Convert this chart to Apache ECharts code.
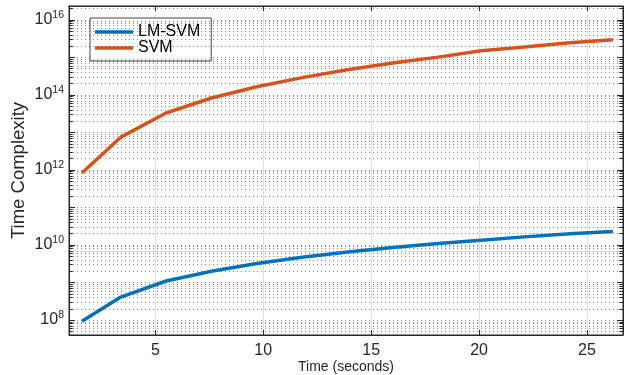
<!DOCTYPE html>
<html>
<head>
<meta charset="utf-8">
<script src="https://cdn.jsdelivr.net/npm/echarts@6/dist/echarts.min.js"></script>
<style>
  html, body { margin: 0; padding: 0; background: #fff; }
  #main { width: 632px; height: 375px; }
</style>
</head>
<body>
<div id="main"></div>
<script>
// values
var timeSec = [1.6, 3.4, 5.5, 7.6, 9.7, 11.8, 13.9, 16.0, 18.1, 20.1, 22.1, 24.2, 26.2];
var lmSvm = [9.3e7, 4.1e8, 1.1e9, 2.0e9, 3.2e9, 4.7e9, 6.5e9, 8.6e9, 1.1e10, 1.35e10, 1.65e10, 2.0e10, 2.3e10];
var svm = [8.3e11, 7.5e12, 3.3e13, 8.3e13, 1.65e14, 2.9e14, 4.7e14, 7.1e14, 1.02e15, 1.5e15, 1.9e15, 2.45e15, 2.95e15];
var seriesNames = ['LM-SVM', 'SVM'];

var xMin = 1, xMax = 26.67;
var yMin = 4e7, yMax = 2.35e16;
var ink = '#262626';
var font = '"Liberation Sans", Arial, sans-serif';

function pairs(xs, ys) {
    return xs.map(function (x, i) { return [x, ys[i]]; });
}

// log minor grid / minor ticks (2..9 x 10^n)
var minorVals = [];
for (var n = 7; n <= 16; n++) {
    for (var k = 2; k <= 9; k++) {
        var v = k * Math.pow(10, n);
        if (v > yMin && v < yMax) minorVals.push(v);
    }
}
var minorGrid = minorVals.map(function (v) { return { yAxis: v }; });
var minorTicks = [];
minorVals.forEach(function (v) {
    minorTicks.push([{ coord: [xMin, v] }, { coord: [xMin + 0.17, v] }]);
    minorTicks.push([{ coord: [xMax - 0.17, v] }, { coord: [xMax, v] }]);
});

function expLabel(v) {
    var e = Math.log10(v);
    var r = Math.round(e);
    if (Math.abs(e - r) > 1e-6 || r % 2 !== 0) return '';
    return '{b|10}{s|' + r + '}';
}

var ec = echarts.init(document.getElementById('main'));
ec.setOption({
    animation: false,
    textStyle: { fontFamily: font },
    grid: {
        left: 69, right: 9, top: 6, bottom: 40,
        outerBoundsMode: 'none', containLabel: false,
        show: true, borderColor: ink, borderWidth: 1
    },
    legend: {
        orient: 'vertical',
        left: 90, top: 18,
        data: seriesNames,
        icon: 'rect',
        backgroundColor: '#fff',
        borderColor: '#444', borderWidth: 1, borderRadius: 0,
        padding: [6, 11, 5, 5],
        itemWidth: 38, itemHeight: 3.5, itemGap: 0,
        textStyle: { fontSize: 16, color: '#000', lineHeight: 15, fontFamily: font }
    },
    xAxis: [{
        type: 'value', min: xMin, max: xMax, splitNumber: 5,
        name: 'Time (seconds)', nameLocation: 'middle', nameGap: 25, nameMoveOverlap: false,
        nameTextStyle: { fontSize: 14, color: ink },
        axisLine: { lineStyle: { color: ink } },
        axisTick: { inside: true, length: 5, lineStyle: { color: ink } },
        axisLabel: { fontSize: 16, color: ink, margin: 8, showMinLabel: false, showMaxLabel: false },
        splitLine: { show: true, lineStyle: { color: 'rgba(0,0,0,0.13)', width: 1 } }
    }, {
        type: 'value', position: 'top', min: xMin, max: xMax, splitNumber: 5,
        axisLine: { lineStyle: { color: ink } },
        axisTick: { inside: true, length: 5, lineStyle: { color: ink } },
        axisLabel: { show: false }, splitLine: { show: false }
    }],
    yAxis: [{
        type: 'log', logBase: 10, min: yMin, max: yMax, splitNumber: 9,
        name: 'Time Complexity', nameLocation: 'middle', nameGap: 41, nameMoveOverlap: false,
        nameTextStyle: { fontSize: 18.5, color: ink },
        axisLine: { lineStyle: { color: ink } },
        axisTick: { inside: true, length: 6, lineStyle: { color: ink } },
        axisLabel: {
            color: ink, margin: 5, showMinLabel: false, showMaxLabel: false,
            formatter: expLabel,
            rich: {
                b: { fontSize: 16, color: ink, lineHeight: 16, verticalAlign: 'middle', fontFamily: font },
                s: { fontSize: 10.5, color: ink, lineHeight: 12, verticalAlign: 'middle', padding: [0, 0, 9, 0], fontFamily: font }
            }
        },
        splitLine: { show: true, lineStyle: { color: 'rgba(0,0,0,0.45)', type: [1, 3], width: 1 } }
    }, {
        type: 'log', logBase: 10, min: yMin, max: yMax, splitNumber: 9, position: 'right',
        axisLine: { lineStyle: { color: ink } },
        axisTick: { inside: true, length: 6, lineStyle: { color: ink } },
        axisLabel: { show: false }, splitLine: { show: false }
    }],
    series: [{
        name: 'grid-helper',
        type: 'line',
        data: [],
        silent: true,
        z: 1,
        markLine: {
            silent: true, symbol: 'none', animation: false,
            label: { show: false },
            lineStyle: { color: 'rgba(0,0,0,0.45)', type: [1, 3], width: 1 },
            emphasis: { disabled: true },
            data: minorGrid
        }
    }, {
        name: 'tick-helper',
        type: 'line',
        data: [],
        silent: true,
        z: 3,
        markLine: {
            silent: true, symbol: 'none', animation: false,
            label: { show: false },
            lineStyle: { color: ink, type: 'solid', width: 1 },
            emphasis: { disabled: true },
            data: minorTicks
        }
    }, {
        name: seriesNames[0],
        type: 'line',
        data: pairs(timeSec, lmSvm),
        symbol: 'none',
        z: 5,
        color: '#0072BD',
        lineStyle: { width: 3.5, color: '#0072BD' }
    }, {
        name: seriesNames[1],
        type: 'line',
        data: pairs(timeSec, svm),
        symbol: 'none',
        z: 5,
        color: '#D95319',
        lineStyle: { width: 3.5, color: '#D95319' }
    }]
});
</script>
</body>
</html>
